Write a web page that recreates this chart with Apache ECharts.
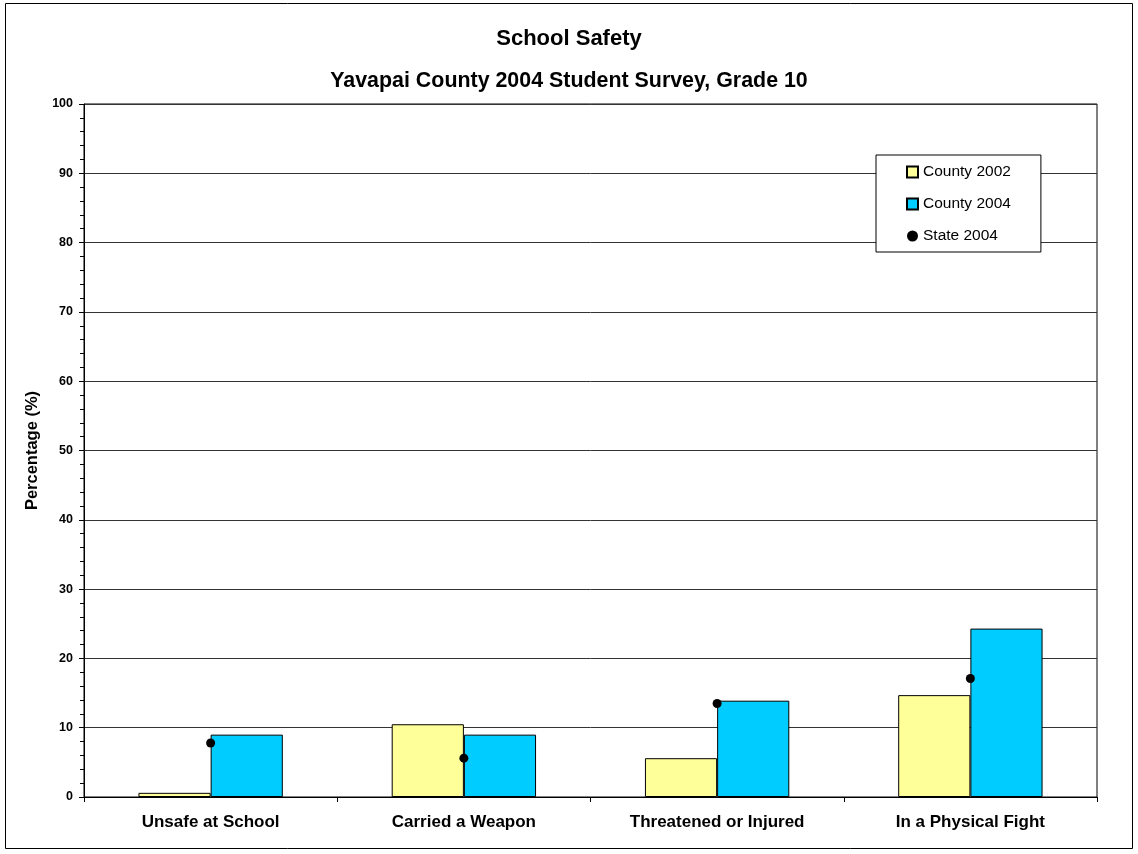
<!DOCTYPE html>
<html>
<head>
<meta charset="utf-8">
<script src="https://cdn.jsdelivr.net/npm/echarts@6/dist/echarts.min.js"></script>
<style>
html,body{margin:0;padding:0;background:#fff;}
#chart{width:1138px;height:854px;}
</style>
</head>
<body>
<div id="chart"></div>
<script>
const categories = ['Unsafe at School', 'Carried a Weapon', 'Threatened or Injured', 'In a Physical Fight'];
const county2002 = [0.6, 10.5, 5.6, 14.7];
const county2004 = [9.0, 9.0, 13.9, 24.3];
const state2004 = [7.8, 5.6, 13.5, 17.1];

const FONT = '"Liberation Sans", Arial, sans-serif';
const chart = echarts.init(document.getElementById('chart'));
chart.setOption({
  animation: false,
  backgroundColor: '#fff',
  textStyle: { fontFamily: FONT },
  title: [
    { text: 'School Safety', left: 564, textAlign: 'center', top: 23, textStyle: { fontFamily: FONT, fontSize: 22, fontWeight: 'bold', color: '#000' } },
    { text: 'Yavapai County 2004 Student Survey, Grade 10', left: 564, textAlign: 'center', top: 66, textStyle: { fontFamily: FONT, fontSize: 21.4, fontWeight: 'bold', color: '#000' } }
  ],
  graphic: [
    { type: 'rect', shape: { x: 5.5, y: 3.5, width: 1127, height: 845 }, style: { fill: 'none', stroke: '#000', lineWidth: 1 }, silent: true }
  ],
  legend: {
    orient: 'vertical',
    left: 876,
    top: 155,
    padding: [9, 30, 8, 30],
    backgroundColor: '#fff',
    borderColor: '#000',
    borderWidth: 1,
    itemWidth: 11,
    itemHeight: 11,
    itemGap: 16,
    textStyle: { fontFamily: FONT, fontSize: 15.5, color: '#000' },
    data: [
      { name: 'County 2002', icon: 'rect' },
      { name: 'County 2004', icon: 'rect' },
      { name: 'State 2004', icon: 'circle' }
    ]
  },
  grid: {
    left: 84, right: 41, top: 104, bottom: 57,
    show: true, borderColor: '#000', borderWidth: 1, backgroundColor: '#fff'
  },
  xAxis: {
    type: 'category',
    data: categories,
    axisLine: { lineStyle: { color: '#000', width: 1 } },
    axisTick: { show: true, length: 5, lineStyle: { color: '#000' } },
    axisLabel: { fontFamily: FONT, fontSize: 17, fontWeight: 'bold', color: '#000', margin: 17 }
  },
  yAxis: {
    type: 'value',
    min: 0, max: 100, interval: 10,
    name: 'Percentage (%)',
    nameLocation: 'middle',
    nameGap: 42,
    nameRotate: 90,
    nameTextStyle: { fontFamily: FONT, fontSize: 16.5, fontWeight: 'bold', color: '#000' },
    axisLine: { show: true, lineStyle: { color: '#000', width: 1 } },
    axisTick: { show: true, length: 5, lineStyle: { color: '#000' } },
    minorTick: { show: true, splitNumber: 5, length: 4, lineStyle: { color: '#000' } },
    splitLine: { show: true, lineStyle: { color: '#333', width: 1 } },
    axisLabel: { fontFamily: FONT, fontSize: 12.5, fontWeight: 'bold', color: '#000', margin: 11 }
  },
  series: [
    {
      name: 'County 2002', type: 'bar', data: county2002,
      barGap: '0%', barCategoryGap: '43%',
      itemStyle: { color: '#FFFF99', borderColor: '#000', borderWidth: 1 }
    },
    {
      name: 'County 2004', type: 'bar', data: county2004,
      barGap: '0%', barCategoryGap: '43%',
      itemStyle: { color: '#00CCFF', borderColor: '#000', borderWidth: 1 }
    },
    {
      name: 'State 2004', type: 'scatter', data: state2004,
      symbol: 'circle', symbolSize: 9,
      itemStyle: { color: '#000', opacity: 1 }, z: 5
    }
  ]
});
</script>
</body>
</html>
